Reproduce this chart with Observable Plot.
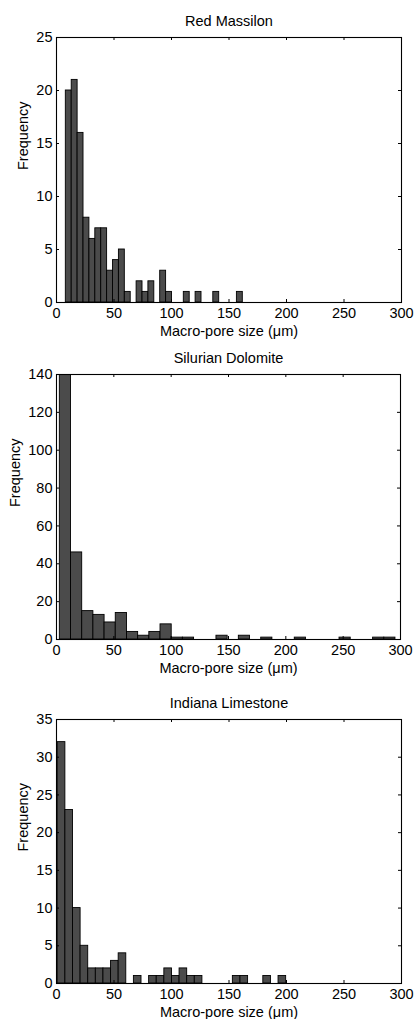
<!DOCTYPE html>
<html>
<head>
<meta charset="utf-8">
<script src="https://cdn.jsdelivr.net/npm/d3@7"></script>
<script src="https://cdn.jsdelivr.net/npm/@observablehq/plot@0.6"></script>
<style>
  html, body { margin: 0; padding: 0; background: #fff; width: 414px; height: 1019px; overflow: hidden; }
  .panel { position: absolute; left: 0; }
</style>
</head>
<body>
<div id="p1" class="panel" style="top:0px"></div>
<div id="p2" class="panel" style="top:340px"></div>
<div id="p3" class="panel" style="top:685px"></div>
<script>
// ---- Data (30-bin histograms, MATLAB hist style) ----
const titles = ["Red Massilon", "Silurian Dolomite", "Indiana Limestone"];
const xTicks = [0, 50, 100, 150, 200, 250, 300];

const redCounts = [20, 21, 16, 8, 6, 7, 7, 3, 4, 5, 1, 0, 2, 1, 2, 0, 3, 1, 0, 0, 1, 0, 1, 0, 0, 1, 0, 0, 0, 1];
const redRange = [8.1, 162.0];
const redYTicks = [0, 5, 10, 15, 20, 25];

const silCounts = [150, 46, 15, 13, 9, 14, 4, 2, 4, 8, 1, 1, 0, 0, 2, 0, 2, 0, 1, 0, 0, 1, 0, 0, 0, 1, 0, 0, 1, 1];
const silRange = [2.9, 295.6];
const silYTicks = [0, 20, 40, 60, 80, 100, 120, 140];

const indCounts = [32, 23, 10, 5, 2, 2, 2, 3, 4, 0, 1, 0, 1, 1, 2, 1, 2, 1, 1, 0, 0, 0, 0, 1, 1, 0, 0, 1, 0, 1];
const indRange = [1.1, 199.7];
const indYTicks = [0, 5, 10, 15, 20, 25, 30, 35];

const xLabel = "Macro-pore size (\u03bcm)";
const yLabel = "Frequency";

function bins(counts, range) {
  const n = counts.length, w = (range[1] - range[0]) / n;
  return counts.map((c, i) => ({x1: range[0] + i * w, x2: range[0] + (i + 1) * w, y: c}));
}

const FONT = "'Liberation Sans', Arial, Helvetica, sans-serif";
const FS = 14.5;

function panel({el, title, counts, range, yTicks, H, mt, mb, mr, ylabDx}) {
  const W = 414, ml = 56;
  const pw = W - ml - mr, ph = H - mt - mb;
  const yMax = yTicks[yTicks.length - 1];
  const data = bins(counts, range);
  const chart = Plot.plot({
    width: W, height: H,
    marginLeft: ml, marginRight: mr, marginTop: mt, marginBottom: mb,
    style: {fontFamily: FONT, fontSize: FS + "px", color: "#000", background: "#fff"},
    x: {domain: [0, 300], ticks: xTicks},
    y: {domain: [0, yMax], ticks: yTicks},
    marks: [
      Plot.rectY(data, {x1: "x1", x2: "x2", y: "y", fill: "#4b4b4b", stroke: "#000", strokeWidth: 0.9, clip: true}),
      Plot.frame({stroke: "#000", strokeWidth: 1.1}),
      // inward ticks on all four sides
      Plot.tickX(xTicks, {x: d => d, insetTop: ph - 3, stroke: "#000"}),
      Plot.tickX(xTicks, {x: d => d, insetBottom: ph - 3, stroke: "#000"}),
      Plot.tickY(yTicks, {y: d => d, insetRight: pw - 3, stroke: "#000"}),
      Plot.tickY(yTicks, {y: d => d, insetLeft: pw - 3, stroke: "#000"}),
      Plot.axisX(xTicks, {tickSize: 0, tickPadding: 5, fontSize: FS, label: null}),
      Plot.axisY(yTicks, {tickSize: 0, tickPadding: 4, fontSize: FS, label: null}),
      Plot.text([title], {frameAnchor: "top", dy: -16, lineAnchor: "middle", fontSize: FS, fill: "#000"}),
      Plot.text([xLabel], {frameAnchor: "bottom", dy: 29, lineAnchor: "middle", fontSize: FS, fill: "#000"}),
      Plot.text([yLabel], {frameAnchor: "left", dx: ylabDx, rotate: -90, lineAnchor: "middle", fontSize: FS, fill: "#000"})
    ]
  });
  document.getElementById(el).appendChild(chart);
}

panel({el: "p1", title: titles[0], counts: redCounts, range: redRange, yTicks: redYTicks, H: 340, mt: 37, mb: 38, mr: 13, ylabDx: -33});
panel({el: "p2", title: titles[1], counts: silCounts, range: silRange, yTicks: silYTicks, H: 345, mt: 34, mb: 46, mr: 14, ylabDx: -41});
panel({el: "p3", title: titles[2], counts: indCounts, range: indRange, yTicks: indYTicks, H: 334, mt: 34, mb: 36, mr: 13, ylabDx: -33});
</script>
</body>
</html>
